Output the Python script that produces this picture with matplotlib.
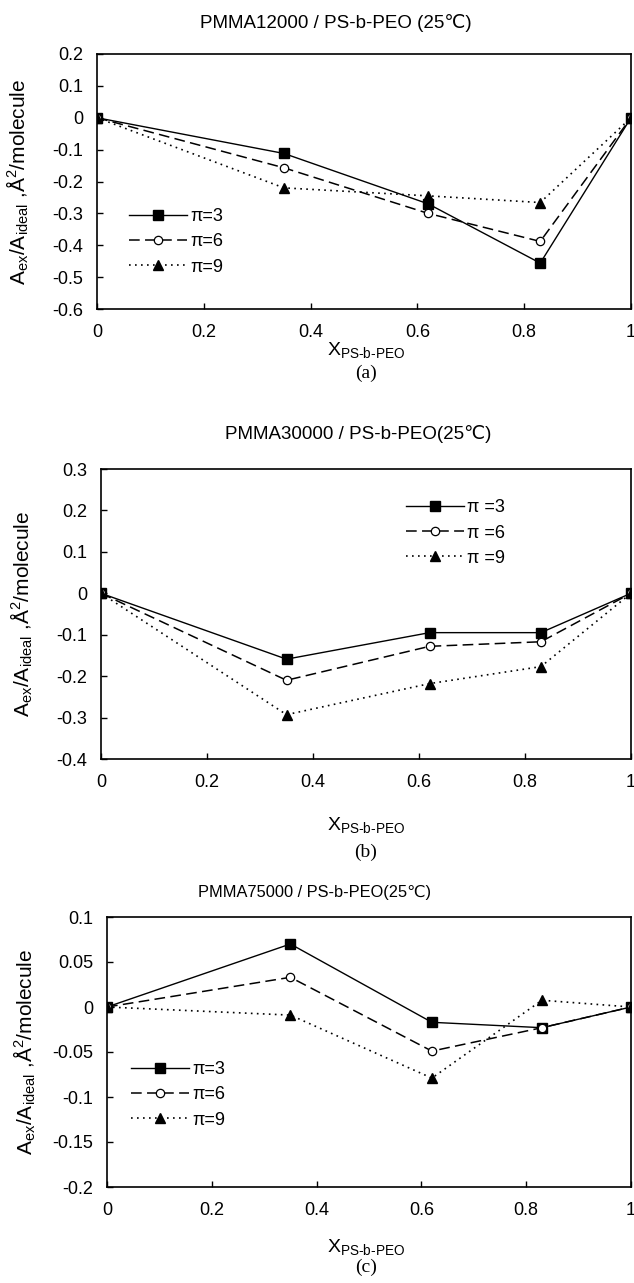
import matplotlib
matplotlib.use("Agg")
import matplotlib.pyplot as plt

plt.rcParams['font.family'] = ['Liberation Sans', 'DejaVu Sans']
plt.rcParams['mathtext.fontset'] = 'custom'
plt.rcParams['mathtext.rm'] = 'Liberation Sans'
plt.rcParams['mathtext.it'] = 'Liberation Sans'

# mole fraction of PS-b-PEO
x = [0, 0.35, 0.62, 0.83, 1]

# (a) PMMA12000
a_pi3 = [0, -0.112, -0.27, -0.456, 0]
a_pi6 = [0, -0.157, -0.30, -0.388, 0]
a_pi9 = [0, -0.22, -0.245, -0.266, 0]

# (b) PMMA30000
b_pi3 = [0, -0.159, -0.095, -0.095, 0]
b_pi6 = [0, -0.21, -0.128, -0.117, 0]
b_pi9 = [0, -0.293, -0.218, -0.177, 0]

# (c) PMMA75000
c_pi3 = [0, 0.070, -0.017, -0.023, 0]
c_pi6 = [0, 0.033, -0.049, -0.023, 0]
c_pi9 = [0, -0.009, -0.079, 0.0075, 0]

titles = ["PMMA12000 / PS-b-PEO (25\u2103)",
          "PMMA30000 / PS-b-PEO(25\u2103)",
          "PMMA75000 / PS-b-PEO(25\u2103)"]
tags = ["(a)", "(b)", "(c)"]
legend_labels = [["\u03c0=3", "\u03c0=6", "\u03c0=9"],
                 ["\u03c0 =3", "\u03c0 =6", "\u03c0 =9"],
                 ["\u03c0=3", "\u03c0=6", "\u03c0=9"]]
ylims = [(-0.6, 0.2), (-0.4, 0.3), (-0.2, 0.1)]
ysteps = [[-0.6, -0.5, -0.4, -0.3, -0.2, -0.1, 0, 0.1, 0.2],
          [-0.4, -0.3, -0.2, -0.1, 0, 0.1, 0.2, 0.3],
          [-0.2, -0.15, -0.1, -0.05, 0, 0.05, 0.1]]
ytick_labels = [["-0.6", "-0.5", "-0.4", "-0.3", "-0.2", "-0.1", "0", "0.1", "0.2"],
                ["-0.4", "-0.3", "-0.2", "-0.1", "0", "0.1", "0.2", "0.3"],
                ["-0.2", "-0.15", "-0.1", "-0.05", "0", "0.05", "0.1"]]
xticks = [0, 0.2, 0.4, 0.6, 0.8, 1]
xtick_labels = ["0", "0.2", "0.4", "0.6", "0.8", "1"]
series = [(a_pi3, a_pi6, a_pi9), (b_pi3, b_pi6, b_pi9), (c_pi3, c_pi6, c_pi9)]

W, H = 634, 1283
fig = plt.figure(figsize=(W / 100, H / 100), dpi=100)

# pixel boxes: left, top, right, bottom
boxes = [(97, 54, 631, 309), (101, 469, 631, 759), (107, 917, 631, 1187)]
title_pos = [(336, 23, 13.5), (358, 434, 13.5), (314, 893, 11.8)]
xlabel_y = [350, 825, 1247]
tag_y = [373, 852, 1267]
ylabel_x = [18, 22, 25]
legend_anchor = [(0.06, 0.263), (0.575, 0.779), (0.046, 0.341)]

for i in range(3):
    l, t, r, b = boxes[i]
    ax = fig.add_axes([l / W, 1 - b / H, (r - l) / W, (b - t) / H])
    s3, s6, s9 = series[i]
    labs = legend_labels[i]
    ax.plot(x, s3, color='black', lw=1.0, ls='-', marker='s', ms=6.5,
            mfc='black', mec='black', label=labs[0])
    ax.plot(x, s6, color='black', lw=1.1, ls=(0, (7, 3.5)), marker='o', ms=6,
            mfc='white', mec='black', mew=0.9, label=labs[1])
    ax.plot(x, s9, color='black', lw=1.2, ls=(0, (1, 2.6)), marker='^', ms=7,
            mfc='black', mec='black', label=labs[2])
    ax.set_xlim(0, 1)
    ax.set_ylim(*ylims[i])
    ax.set_xticks(xticks)
    ax.set_xticklabels(xtick_labels)
    ax.set_yticks(ysteps[i])
    ax.set_yticklabels(ytick_labels[i])
    ax.tick_params(direction='in', length=4, width=1.0, labelsize=13,
                   colors='black')
    ax.tick_params(axis='x', pad=11)
    ax.tick_params(axis='y', pad=10)
    for sp in ax.spines.values():
        sp.set_linewidth(1.2)

    leg = ax.legend(loc='center left', bbox_to_anchor=legend_anchor[i],
                    frameon=False, fontsize=13, handlelength=3.2,
                    handletextpad=0.2, labelspacing=0.45, borderpad=0,
                    borderaxespad=0)

    fig.text(title_pos[i][0] / W, 1 - title_pos[i][1] / H, titles[i],
             ha='center', va='center', fontsize=title_pos[i][2])
    fig.text(366 / W, 1 - xlabel_y[i] / H,
             'X$_{\\mathrm{PS\u2010b\u2010PEO}}$',
             ha='center', va='center', fontsize=14)
    fig.text(366 / W, 1 - tag_y[i] / H, tags[i], ha='center', va='center',
             fontsize=14, family='Liberation Serif')
    fig.text(ylabel_x[i] / W, 1 - ((t + b) / 2) / H,
             'A$_{\\mathrm{ex}}$/A$_{\\mathrm{ideal}}$ ,\u00c5$^{2}$/molecule',
             rotation=90, ha='center', va='center', fontsize=15)

fig.savefig("out.png", dpi=100)
